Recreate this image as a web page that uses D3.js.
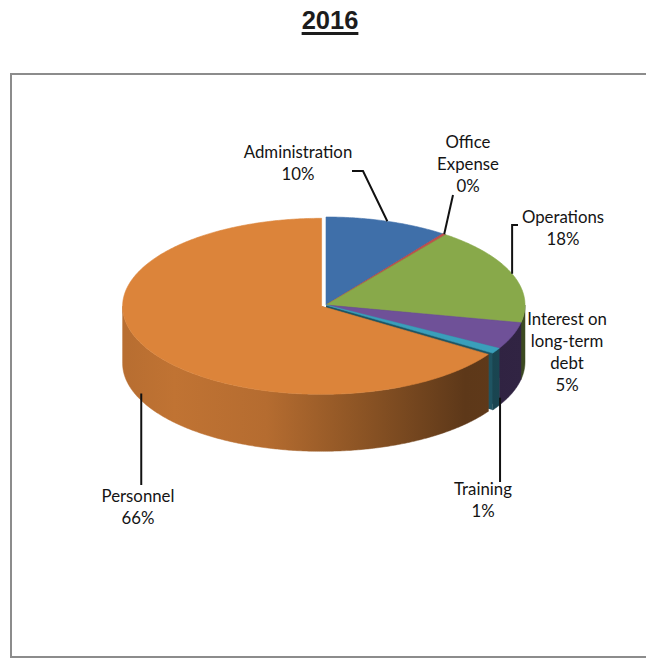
<!DOCTYPE html>
<html>
<head>
<meta charset="utf-8">
<script src="https://cdn.jsdelivr.net/npm/d3@7"></script>
<style>
  html, body { margin: 0; padding: 0; background: #fff; }
  svg { display: block; }
</style>
</head>
<body>
<svg id="chart" width="646" height="658"></svg>
<script>
// ---- data ----
const title = "2016";
const categories = ["Administration", "Office Expense", "Operations", "Interest on long-term debt", "Training", "Personnel"];
const labelLines = [["Administration"], ["Office", "Expense"], ["Operations"], ["Interest on", "long-term", "debt"], ["Training"], ["Personnel"]];
const values = [10, 0.3, 18, 5, 1, 66];

// ---- style / layout ----
const colors = ["#3f6fa9", "#c0504d", "#88a94a", "#6f5198", "#3a9fbb", "#dc843a"];
const W = 646, H = 658;
const cx = 326, cy = 305, rx = 199, ry = 88, depth = 57;
const explode = [0, 0, 0, 0, 0, 5];          // pixels each slice is pulled out
const labelFont = "Lato, 'Open Sans', sans-serif";
const labelSize = 16.8, lineGap = 22;

// label blocks: centre x, first baseline, leader style
const labelLayout = [
  { x: 298, y: 158, leader: "elbowLeft", lx: 352, ly: 171, elbow: 363 },
  { x: 468, y: 148, leader: "straight", lx: 453, ly: 195 },
  { x: 563, y: 223, leader: "elbowDown", lx: 518, ly: 225 },
  { x: 567, y: 325, leader: null },
  { x: 483, y: 495, leader: "vertical", ly: 482, anchorAngle: 119 },
  { x: 138, y: 502, leader: "vertical", ly: 485, anchorAngle: 245 }
];

const svg = d3.select("#chart");
svg.append("rect").attr("width", W).attr("height", H).attr("fill", "#fff");

// title
const titleText = svg.append("text")
  .attr("x", 330).attr("y", 29)
  .attr("text-anchor", "middle")
  .attr("font-family", "'Liberation Sans', Arial, sans-serif")
  .attr("font-weight", "bold")
  .attr("font-size", 25.5)
  .attr("fill", "#1c1c1c")
  .text(title);
const tb = titleText.node().getBBox();
svg.append("rect")
  .attr("x", tb.x).attr("y", 32)
  .attr("width", tb.width).attr("height", 3)
  .attr("fill", "#1c1c1c");

// chart frame
svg.append("rect")
  .attr("x", 11).attr("y", 74)
  .attr("width", 660).attr("height", 583)
  .attr("fill", "none")
  .attr("stroke", "#8c8c8c")
  .attr("stroke-width", 2);

// ---- pie geometry ----
const total = d3.sum(values);
const arcs = d3.pie().sort(null).value(d => d)(values);

const offsets = arcs.map((a, i) => {
  const mid = (a.startAngle + a.endAngle) / 2;
  return [Math.sin(mid) * explode[i], -Math.cos(mid) * explode[i] * 0.55];
});

function pt(a, i, dz) {
  const o = offsets[i];
  return [cx + o[0] + rx * Math.sin(a), cy + o[1] - ry * Math.cos(a) + (dz || 0)];
}
function arcPts(s, e, i, dz) {
  const n = Math.max(2, Math.ceil((e - s) / 0.01));
  return d3.range(n + 1).map(k => pt(s + (e - s) * k / n, i, dz));
}
const line = d3.line();

// horizontal shading for the side walls
const defs = svg.append("defs");
colors.forEach((c, i) => {
  const g = defs.append("linearGradient")
    .attr("id", "wall" + i)
    .attr("gradientUnits", "userSpaceOnUse")
    .attr("x1", cx - rx).attr("x2", cx + rx)
    .attr("y1", 0).attr("y2", 0);
  [[0, 0.5], [0.12, 0.38], [0.35, 0.55], [0.6, 1.3], [0.85, 2.4], [1, 2.3]].forEach(([o, k]) => {
    g.append("stop").attr("offset", o).attr("stop-color", d3.color(c).darker(k));
  });
});

const gFaces = svg.append("g");
const gWalls = svg.append("g");
const gTops = svg.append("g");

arcs.forEach((a, i) => {
  const c = colors[i];
  const ctr = [cx + offsets[i][0], cy + offsets[i][1]];
  // radial cut faces
  [a.startAngle, a.endAngle].forEach(ang => {
    const p = pt(ang, i, 0);
    gFaces.append("path")
      .attr("d", line([ctr, p, [p[0], p[1] + depth], [ctr[0], ctr[1] + depth]]) + "Z")
      .attr("fill", d3.color(c).darker(1.8));
  });
  // outer wall (front half only)
  const s = Math.max(a.startAngle, Math.PI / 2);
  const e = Math.min(a.endAngle, Math.PI * 1.5);
  if (e > s) {
    const top = arcPts(s, e, i, 0);
    const bot = arcPts(s, e, i, depth).reverse();
    gWalls.append("path")
      .attr("d", line(top.concat(bot)) + "Z")
      .attr("fill", `url(#wall${i})`)
      .attr("stroke", `url(#wall${i})`)
      .attr("stroke-width", 0.5);
  }
  // top face
  const topPts = [ctr].concat(arcPts(a.startAngle, a.endAngle, i, 0));
  gTops.append("path")
    .attr("d", line(topPts) + "Z")
    .attr("fill", c)
    .attr("stroke", c)
    .attr("stroke-width", 0.6)
    .attr("stroke-linejoin", "round");
});

// ---- labels & leader lines ----
const gLab = svg.append("g");
arcs.forEach((a, i) => {
  const L = labelLayout[i];
  const pct = Math.round(values[i] / total * 100) + "%";
  const lines = labelLines[i].concat([pct]);
  const t = gLab.append("text")
    .attr("text-anchor", "middle")
    .attr("font-family", labelFont)
    .attr("font-size", labelSize)
    .attr("fill", "#141414");
  lines.forEach((s, k) => {
    t.append("tspan").attr("x", L.x).attr("y", L.y + k * lineGap).text(s);
  });

  if (!L.leader) return;
  const mid = (a.startAngle + a.endAngle) / 2;
  let pts;
  if (L.leader === "elbowLeft") {
    const p = pt(mid, i, 0);
    pts = [[L.lx, L.ly], [L.elbow, L.ly], p];
  } else if (L.leader === "straight") {
    const p = pt(mid, i, 0);
    pts = [[L.lx, L.ly], p];
  } else if (L.leader === "elbowDown") {
    const p = pt(mid, i, 0);
    pts = [[L.lx, L.ly], [p[0], L.ly], p];
  } else if (L.leader === "vertical") {
    const p = pt(L.anchorAngle * Math.PI / 180, i, depth - 7);
    pts = [[p[0], L.ly], p];
  }
  gLab.append("path")
    .attr("d", line(pts))
    .attr("fill", "none")
    .attr("stroke", "#111")
    .attr("stroke-width", 2);
});
</script>
</body>
</html>
